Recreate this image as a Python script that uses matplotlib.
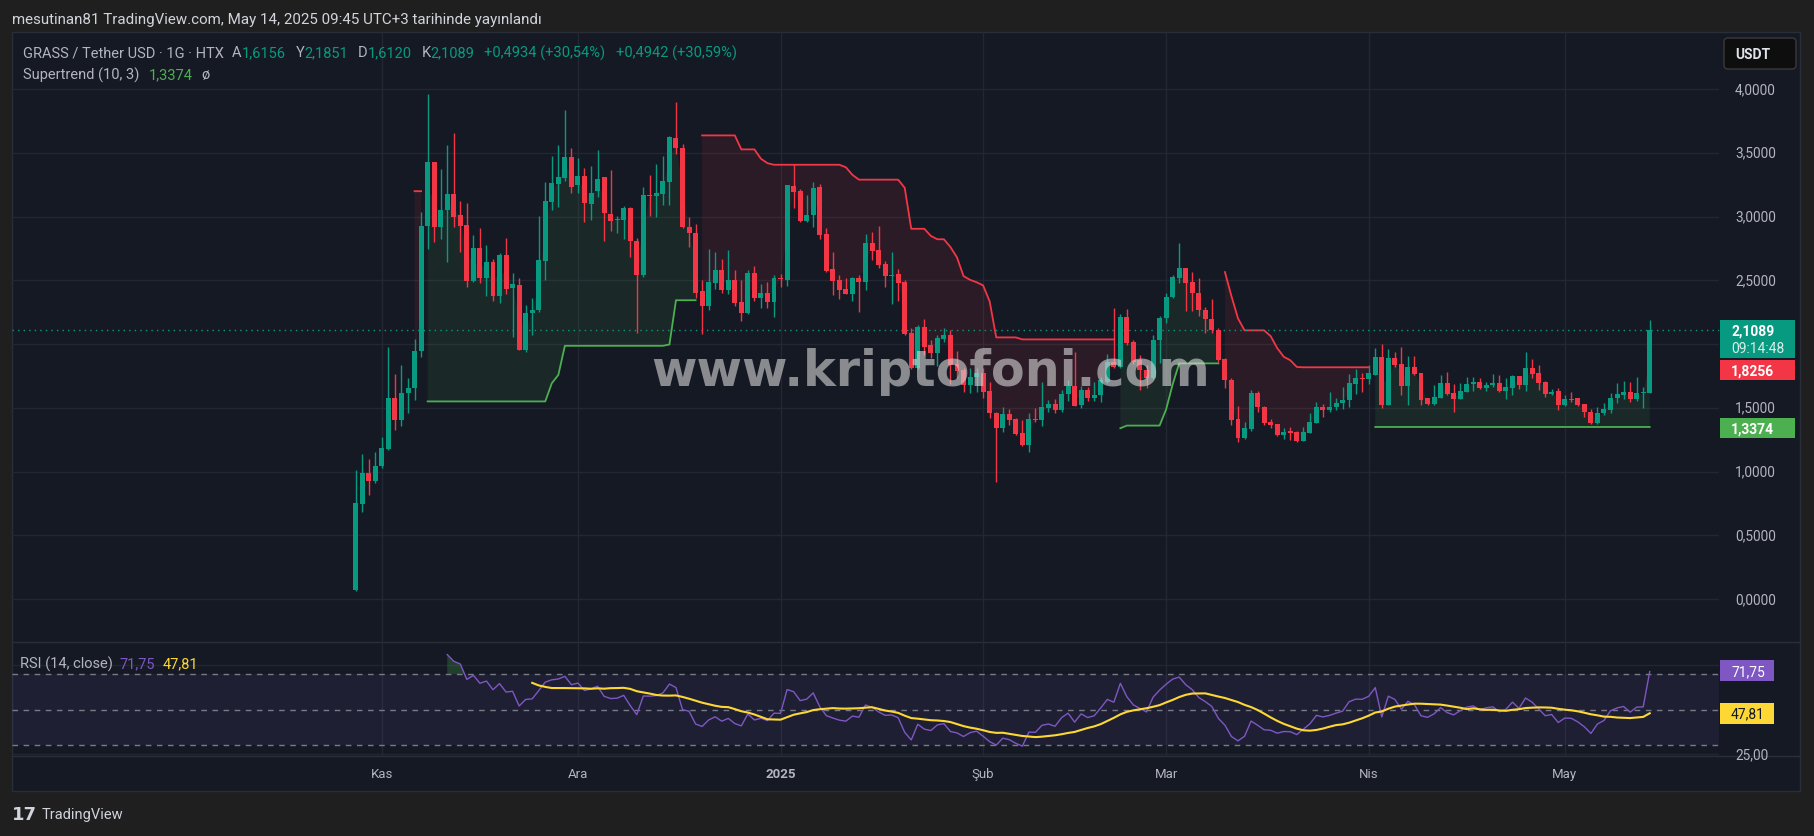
import numpy as np
import pandas as pd
import matplotlib
matplotlib.use("Agg")
import matplotlib.pyplot as plt
from matplotlib.patches import Rectangle, FancyBboxPatch

W, H = 1814, 837

# GRASS / USDT daily candles (HTX), 2024-10-28 .. 2025-05-14
start_date = "2024-10-28"
opens = [0.07, 0.749, 0.988, 0.929,
         1.044, 1.18, 1.58, 1.403, 1.618, 1.655, 1.945, 2.927, 3.426, 2.914,
         3.053, 3.177, 3.013, 2.935, 2.493, 2.755, 2.514, 2.64, 2.38, 2.702,
         2.44, 2.46, 1.956, 2.243, 2.265, 2.65, 3.115, 3.257, 3.305, 3.466,
         3.246, 3.316, 3.10, 3.2, 3.31, 3.02, 2.97, 2.97, 3.069, 2.81,
         2.538, 3.168, 3.163, 3.18, 3.273, 3.614, 3.536, 2.919, 2.873, 2.417,
         2.297, 2.476, 2.578, 2.423, 2.5, 2.33, 2.243, 2.554, 2.358, 2.403, 2.332,
         2.515, 2.502, 3.24, 3.2, 2.965, 3.01, 3.23, 2.86, 2.586, 2.5,
         2.43, 2.392, 2.515, 2.484, 2.79, 2.74, 2.625, 2.533, 2.546, 2.484,
         2.084, 1.809, 2.136, 1.99, 1.927, 2.04, 2.07, 1.843, 1.796, 1.678, 1.744,
         1.77, 1.631, 1.461, 1.344, 1.448, 1.41, 1.3, 1.208, 1.409, 1.404,
         1.5, 1.527, 1.482, 1.605, 1.673, 1.52, 1.639, 1.574, 1.6, 1.705,
         1.861, 1.822, 2.214, 2.013, 1.874, 1.8, 1.731, 2.031,
         2.205, 2.371, 2.52, 2.6, 2.484, 2.4, 2.27, 2.2, 2.11, 1.88,
         1.718, 1.408, 1.26, 1.33, 1.613, 1.508, 1.385, 1.369, 1.285, 1.31,
         1.311, 1.238, 1.306, 1.377, 1.508, 1.482, 1.503, 1.534, 1.558, 1.686, 1.73,
         1.728, 1.757, 1.9, 1.521, 1.887, 1.84, 1.67, 1.822, 1.77, 1.573,
         1.529, 1.58, 1.691, 1.613, 1.568, 1.626, 1.683, 1.704, 1.652, 1.678,
         1.691, 1.631, 1.652, 1.746, 1.678, 1.809, 1.77, 1.704, 1.607, 1.63,
         1.521, 1.565, 1.573, 1.526, 1.469, 1.377, 1.456, 1.482, 1.578, 1.6, 1.62, 1.568, 1.613, 1.6156]
highs = [1.009, 1.135, 1.098, 1.157,
         1.269, 1.975, 1.768, 1.838, 1.736, 2.036, 3.034, 3.962, 3.43, 3.37,
         3.557, 3.651, 3.123, 3.107, 2.857, 2.911, 2.777, 2.667, 2.71, 2.83,
         2.56, 2.514, 2.305, 2.358, 3.005, 3.27, 3.474, 3.557, 3.839, 3.536,
         3.458, 3.378, 3.394, 3.52, 3.31, 3.364, 3.005, 3.083, 3.075, 2.833,
         3.235, 3.324, 3.41, 3.474, 3.63, 3.901, 3.565, 2.997, 2.943, 2.5,
         2.747, 2.718, 2.67, 2.734, 2.584, 2.5, 2.584, 2.608, 2.468, 2.489, 2.541,
         2.55, 3.25, 3.409, 3.213, 3.169, 3.273, 3.252, 2.907, 2.719, 2.541,
         2.52, 2.526, 2.541, 2.86, 2.876, 2.923, 2.651, 2.719, 2.586, 2.502,
         2.123, 2.149, 2.194, 2.031, 2.07, 2.128, 2.11, 1.945, 1.814, 1.809, 1.809,
         1.814, 1.705, 1.465, 1.508, 1.488, 1.422, 1.404, 1.456, 1.5, 1.699,
         1.561, 1.566, 1.639, 1.718, 1.94, 1.673, 1.666, 1.705, 1.744, 1.919,
         2.285, 2.233, 2.272, 2.031, 1.914, 1.835, 2.07, 2.222,
         2.397, 2.541, 2.79, 2.6, 2.562, 2.52, 2.29, 2.353, 2.123, 1.888,
         1.736, 1.516, 1.39, 1.639, 1.631, 1.51, 1.411, 1.37, 1.338, 1.35,
         1.32, 1.351, 1.456, 1.542, 1.526, 1.62, 1.573, 1.665, 1.764, 1.801, 1.77,
         1.835, 1.966, 1.997, 1.958, 1.94, 1.979, 1.908, 1.908, 1.77, 1.573,
         1.678, 1.757, 1.778, 1.683, 1.691, 1.738, 1.738, 1.73, 1.7, 1.762,
         1.757, 1.73, 1.757, 1.75, 1.935, 1.879, 1.835, 1.712, 1.65, 1.652,
         1.6, 1.62, 1.58, 1.53, 1.487, 1.508, 1.534, 1.613, 1.691, 1.712, 1.704, 1.743, 1.66, 2.1851]
lows = [0.06, 0.679, 0.813, 0.907,
        1.028, 1.17, 1.323, 1.358, 1.457, 1.564, 1.902, 2.745, 2.798, 2.82,
        2.643, 2.914, 2.718, 2.444, 2.484, 2.476, 2.374, 2.337, 2.321, 2.39,
        2.055, 1.95, 1.94, 2.074, 2.254, 2.503, 3.053, 3.075, 3.276, 3.187,
        3.187, 2.954, 2.97, 3.155, 2.806, 2.887, 2.868, 2.82, 2.68, 2.09,
        2.525, 3.005, 3.0, 3.093, 3.093, 3.49, 2.908, 2.758, 2.358, 2.082,
        2.264, 2.431, 2.399, 2.396, 2.297, 2.181, 2.235, 2.337, 2.28, 2.28, 2.214,
        2.45, 2.458, 3.069, 2.959, 2.96, 2.92, 2.824, 2.567, 2.384, 2.353,
        2.39, 2.337, 2.254, 2.424, 2.659, 2.593, 2.444, 2.314, 2.34, 2.07,
        1.801, 1.806, 1.914, 1.888, 1.83, 2.018, 1.684, 1.731, 1.621, 1.613, 1.621,
        1.579, 1.417, 0.92, 1.313, 1.365, 1.286, 1.2, 1.15, 1.391, 1.36,
        1.469, 1.461, 1.464, 1.553, 1.51, 1.5, 1.553, 1.55, 1.545, 1.692,
        1.81, 1.81, 1.992, 1.84, 1.639, 1.657, 1.723, 1.85,
        2.162, 2.36, 2.476, 2.261, 2.261, 2.222, 2.084, 2.09, 1.856, 1.657,
        1.365, 1.233, 1.257, 1.32, 1.463, 1.364, 1.343, 1.28, 1.254, 1.246,
        1.233, 1.238, 1.306, 1.377, 1.424, 1.469, 1.482, 1.487, 1.508, 1.607, 1.62,
        1.686, 1.757, 1.5, 1.52, 1.822, 1.6, 1.521, 1.757, 1.521, 1.521,
        1.52, 1.58, 1.6, 1.469, 1.568, 1.62, 1.63, 1.65, 1.63, 1.66,
        1.626, 1.565, 1.6, 1.647, 1.631, 1.73, 1.639, 1.581, 1.6, 1.482,
        1.515, 1.542, 1.515, 1.424, 1.369, 1.37, 1.44, 1.456, 1.534, 1.57, 1.542, 1.555, 1.5, 1.612]
closes = [0.754, 0.988, 0.929, 1.044,
          1.183, 1.58, 1.403, 1.618, 1.658, 1.945, 2.927, 3.426, 2.914, 3.053,
          3.177, 3.0, 2.927, 2.493, 2.755, 2.514, 2.64, 2.374, 2.702, 2.428,
          2.468, 1.956, 2.243, 2.27, 2.656, 3.123, 3.262, 3.31, 3.466, 3.233,
          3.316, 3.109, 3.185, 3.295, 3.024, 2.962, 2.975, 3.069, 2.806, 2.538,
          3.168, 3.163, 3.185, 3.278, 3.622, 3.539, 2.919, 2.868, 2.399, 2.297,
          2.484, 2.578, 2.423, 2.5, 2.324, 2.243, 2.554, 2.358, 2.403, 2.332, 2.515,
          2.51, 3.247, 3.195, 2.965, 3.012, 3.221, 2.855, 2.575, 2.494, 2.424,
          2.392, 2.515, 2.484, 2.79, 2.732, 2.62, 2.533, 2.541, 2.476, 2.076,
          1.809, 2.136, 1.974, 1.927, 2.044, 2.07, 1.835, 1.791, 1.678, 1.744, 1.77,
          1.626, 1.461, 1.344, 1.448, 1.404, 1.294, 1.208, 1.409, 1.404, 1.508,
          1.527, 1.482, 1.605, 1.673, 1.514, 1.639, 1.574, 1.6, 1.718, 1.861,
          1.822, 2.214, 2.005, 1.861, 1.796, 1.731, 2.031, 2.207,
          2.371, 2.528, 2.593, 2.476, 2.397, 2.267, 2.196, 2.11, 1.874, 1.718,
          1.404, 1.264, 1.338, 1.613, 1.503, 1.377, 1.364, 1.285, 1.311, 1.306,
          1.238, 1.311, 1.385, 1.508, 1.482, 1.503, 1.534, 1.56, 1.691, 1.73, 1.728,
          1.77, 1.9, 1.521, 1.887, 1.835, 1.67, 1.822, 1.764, 1.56, 1.529,
          1.586, 1.691, 1.607, 1.568, 1.631, 1.686, 1.704, 1.652, 1.678, 1.691,
          1.631, 1.66, 1.746, 1.678, 1.809, 1.764, 1.691, 1.607, 1.62, 1.521,
          1.565, 1.562, 1.521, 1.463, 1.377, 1.456, 1.487, 1.578, 1.605, 1.62, 1.568, 1.613, 1.6155, 2.1089]

month_starts = ["2024-11-01", "2024-12-01", "2025-01-01", "2025-02-01",
                "2025-03-01", "2025-04-01", "2025-05-01"]
month_labels = ["Kas", "Ara", "2025", "Şub", "Mar", "Nis", "May"]
price_ticks = [0.0, 0.5, 1.0, 1.5, 2.0, 2.5, 3.0, 3.5, 4.0]
price_labels_shown = [0.0, 0.5, 1.0, 1.5, 2.5, 3.0, 3.5, 4.0]   # 2,0000 sits under the last-price tag
rsi_ticks = [25, 75]

header = "mesutinan81 TradingView.com, May 14, 2025 09:45 UTC+3 tarihinde yayınlandı"
legend_vals = ["1,6156", "2,1851", "1,6120", "2,1089"]
legend_chg = ["+0,4934 (+30,54%)", "+0,4942 (+30,59%)"]
st_label = "1,3374"
st_red_label = "1,8256"
rsi_label, rsi_ma_label = "71,75", "47,81"
countdown = "09:14:48"

# colours
FIG_BG = "#1f1f1f"
PANE = "#151924"
GRID = "#232733"
TXT = "#b2b5be"
UP = "#089981"
DN = "#f23645"
ST_UP = "#4caf50"
ST_DN = "#f23645"
RSI_C = "#7e57c2"
MA_C = "#fdd835"
FONT = "Roboto"

o, h, l, c = (np.array(v, dtype=float) for v in (opens, highs, lows, closes))
n = len(c)
dates = pd.date_range(start_date, periods=n, freq="D")
nov1 = pd.Timestamp("2024-11-01")
x = np.array((dates - nov1).days, dtype=float)
month_x = np.array((pd.to_datetime(month_starts) - nov1).days, dtype=float)


def rma(src, length):
    out = np.full(len(src), np.nan)
    for i in range(len(src)):
        if i > 0 and not np.isnan(out[i - 1]):
            out[i] = (src[i] + (length - 1) * out[i - 1]) / length
        elif i >= length - 1:
            win = src[i - length + 1:i + 1]
            if not np.isnan(win).any():
                out[i] = win.mean()
    return out


# Supertrend (10, 3)
prev_c = np.concatenate([[np.nan], c[:-1]])
tr = np.where(np.isnan(prev_c), h - l,
              np.nanmax(np.vstack([h - l, np.abs(h - prev_c), np.abs(l - prev_c)]), axis=0))
atr = rma(tr, 10)
hl2 = (h + l) / 2
lower = np.full(n, np.nan)
upper = np.full(n, np.nan)
st = np.full(n, np.nan)
direc = np.full(n, np.nan)
for i in range(n):
    if np.isnan(atr[i]):
        continue
    lb = hl2[i] - 3 * atr[i]
    ub = hl2[i] + 3 * atr[i]
    plb = lower[i - 1] if i > 0 and not np.isnan(lower[i - 1]) else 0.0
    pub = upper[i - 1] if i > 0 and not np.isnan(upper[i - 1]) else 0.0
    lb = lb if (lb > plb or c[i - 1] < plb) else plb
    ub = ub if (ub < pub or c[i - 1] > pub) else pub
    lower[i], upper[i] = lb, ub
    if i == 0 or np.isnan(atr[i - 1]):
        d = 1
    elif st[i - 1] == pub:
        d = -1 if c[i] > ub else 1
    else:
        d = 1 if c[i] < lb else -1
    direc[i] = d
    st[i] = lb if d == -1 else ub
up_line = np.where(direc == -1, st, np.nan)
dn_line = np.where(direc == 1, st, np.nan)
body_mid = (o + c) / 2

# RSI (14) + SMA(14)
chg = np.concatenate([[np.nan], np.diff(c)])
gain = np.where(np.isnan(chg), np.nan, np.maximum(chg, 0))
loss = np.where(np.isnan(chg), np.nan, np.maximum(-chg, 0))
ag, al = rma(gain, 14), rma(loss, 14)
rsi = 100 - 100 / (1 + ag / al)
rsi_ma = pd.Series(rsi).rolling(14).mean().values

# ---------------- figure ----------------
fig = plt.figure(figsize=(W / 100, H / 100), dpi=100, facecolor=FIG_BG)
bg = fig.add_axes([0, 0, 1, 1], zorder=0)
bg.set_xlim(0, W)
bg.set_ylim(H, 0)
bg.axis("off")
bg.add_patch(Rectangle((12, 33), 1788, 759, facecolor=PANE, edgecolor="#2a2e39", lw=1))
bg.plot([12, 1800], [643, 643], color="#2a2e39", lw=1)
bg.plot([12, 1800], [757, 757], color="#2a2e39", lw=1)

ax = fig.add_axes([12 / W, 1 - 643 / H, 1707 / W, 610 / H], zorder=1)
rx = fig.add_axes([12 / W, 1 - 757 / H, 1707 / W, 114 / H], zorder=1)
for a in (ax, rx):
    a.set_facecolor("none")
    for s in a.spines.values():
        s.set_visible(False)
    a.tick_params(left=False, bottom=False, labelleft=False, labelbottom=False)
    a.set_xlim(-56.6, 204.6)
ax.set_ylim(-0.337, 4.447)
rx.set_ylim(23.93, 87.98)

ov = fig.add_axes([0, 0, 1, 1], zorder=3)
ov.set_xlim(0, W)
ov.set_ylim(H, 0)
ov.axis("off")


def ypx(a, v):
    return ov.transData.inverted().transform(a.transData.transform((0, v)))[1]


def xpx(a, v):
    return ov.transData.inverted().transform(a.transData.transform((v, 0)))[0]


# grid
for a in (ax, rx):
    a.vlines(month_x, *a.get_ylim(), color=GRID, lw=1, zorder=0)
ax.hlines(price_ticks, *ax.get_xlim(), color=GRID, lw=1, zorder=0)
rx.hlines(rsi_ticks, *rx.get_xlim(), color=GRID, lw=1, zorder=0)

# supertrend
ax.fill_between(x, body_mid, up_line, color=ST_UP, alpha=0.1, lw=0, zorder=1)
ax.fill_between(x, body_mid, dn_line, color=ST_DN, alpha=0.1, lw=0, zorder=1)
ax.plot(x, up_line, color=ST_UP, lw=1.3, zorder=2)
ax.plot(x, dn_line, color=ST_DN, lw=1.3, zorder=2)

# candles
cols = np.where(c >= o, UP, DN)
ax.vlines(x, l, h, colors=cols, lw=1, zorder=3)
ax.bar(x, np.maximum(np.abs(c - o), 0.008), bottom=np.minimum(o, c), width=0.76,
       color=cols, lw=0, zorder=4)
ax.axhline(c[-1], color=UP, lw=1, ls=(0, (1, 3)), zorder=2)

# RSI pane
rx.axhspan(30, 70, color=RSI_C, alpha=0.1, lw=0)
for lvl in (70, 50, 30):
    rx.axhline(lvl, color="#787b86", lw=1, ls=(0, (4, 4)))
rx.fill_between(x, rsi, 70, where=rsi > 70, interpolate=True, color=ST_UP, alpha=0.25, lw=0)
rx.fill_between(x, rsi, 30, where=rsi < 30, interpolate=True, color=DN, alpha=0.25, lw=0)
rx.plot(x, rsi, color=RSI_C, lw=1)
rx.plot(x, rsi_ma, color=MA_C, lw=1.5)

# watermark
ov.text(931, 372, "www.kriptofoni.com", fontsize=35.5, fontweight="bold", family="DejaVu Sans",
        color="#d8d8d8", alpha=0.6, ha="center", va="center", zorder=6)

# header + legends
ov.text(12, 20, header, color="#d1d4dc", fontsize=10.9, family=FONT, va="center")


def chain(x0, y0, pieces, size=10.5):
    t = ov.text(x0, y0, pieces[0][0], color=pieces[0][1], fontsize=size, family=FONT, va="center")
    for s, col, gap in pieces[1:]:
        t = ov.annotate(s, xy=(1, 0.5), xycoords=t, xytext=(gap, 0), textcoords="offset pixels",
                        color=col, fontsize=size, family=FONT, va="center", ha="left")


chain(23, 53, [("GRASS / Tether USD · 1G · HTX", TXT),
               ("A", TXT, 8), (legend_vals[0], UP, 0),
               ("Y", TXT, 10), (legend_vals[1], UP, 0),
               ("D", TXT, 10), (legend_vals[2], UP, 0),
               ("K", TXT, 10), (legend_vals[3], UP, 0),
               (legend_chg[0], UP, 10), (legend_chg[1], UP, 10)])
chain(23, 75, [("Supertrend (10, 3)", TXT), (st_label, ST_UP, 9), ("ø", TXT, 9)])
chain(20, 664, [("RSI (14, close)", TXT), (rsi_label, RSI_C, 7), (rsi_ma_label, MA_C, 7)])

# price scale
for p in price_labels_shown:
    ov.text(1735, ypx(ax, p), f"{p:.4f}".replace(".", ","), color=TXT, fontsize=9.8,
            family=FONT, va="center", ha="left")
for r in rsi_ticks:
    ov.text(1735, ypx(rx, r), f"{r:.2f}".replace(".", ","), color=TXT, fontsize=9.8,
            family=FONT, va="center", ha="left")


def tag(y0, y1, face, x1=1795):
    ov.add_patch(Rectangle((1720, y0), x1 - 1720, y1 - y0, facecolor=face, lw=0, zorder=7))


yc = ypx(ax, c[-1])
tag(yc - 10, yc + 28, UP)
ov.text(1731, yc, f"{c[-1]:.4f}".replace(".", ","), color="white", fontsize=10,
        fontweight="bold", family=FONT, va="center", zorder=8)
ov.text(1731, yc + 18, countdown, color="#d8efe9", fontsize=10, family=FONT, va="center", zorder=8)
tag(yc + 30, yc + 50, DN)
ov.text(1731, yc + 40, st_red_label, color="white", fontsize=10, fontweight="bold",
        family=FONT, va="center", zorder=8)
ys = ypx(ax, float(st_label.replace(",", ".")))
tag(ys - 10, ys + 10, ST_UP)
ov.text(1731, ys, st_label, color="white", fontsize=10, fontweight="bold",
        family=FONT, va="center", zorder=8)

yr = ypx(rx, float(rsi_label.replace(",", ".")))
tag(yr - 10.5, yr + 10.5, RSI_C, x1=1774)
ov.text(1731, yr, rsi_label, color="white", fontsize=10, family=FONT, va="center", zorder=8)
ym = ypx(rx, float(rsi_ma_label.replace(",", ".")))
tag(ym - 10.5, ym + 10.5, MA_C, x1=1774)
ov.text(1731, ym, rsi_ma_label, color="#131722", fontsize=10, family=FONT, va="center", zorder=8)

# currency button
ov.add_patch(FancyBboxPatch((1724, 39), 72, 31, boxstyle="round,pad=0,rounding_size=4",
                            facecolor="#0e0e0e", edgecolor="#3a3a3a", lw=1, zorder=7))
ov.text(1753, 54.5, "USDT", color="#e0e3eb", fontsize=10, fontweight="bold", family=FONT,
        ha="center", va="center", zorder=8)

# time axis labels
for mx, lab in zip(month_x, month_labels):
    ov.text(xpx(rx, mx), 775, lab, color=TXT, fontsize=9.5, family=FONT, ha="center", va="center",
            fontweight="bold" if lab == "2025" else "normal")

# footer logo
ov.text(12, 815, "17", color="#d1d4dc", fontsize=13, fontweight="heavy", family="DejaVu Sans",
        va="center")
ov.text(42, 815, "TradingView", color="#d1d4dc", fontsize=10.5, family=FONT, va="center")

fig.savefig("out.png", dpi=100, facecolor=FIG_BG)
